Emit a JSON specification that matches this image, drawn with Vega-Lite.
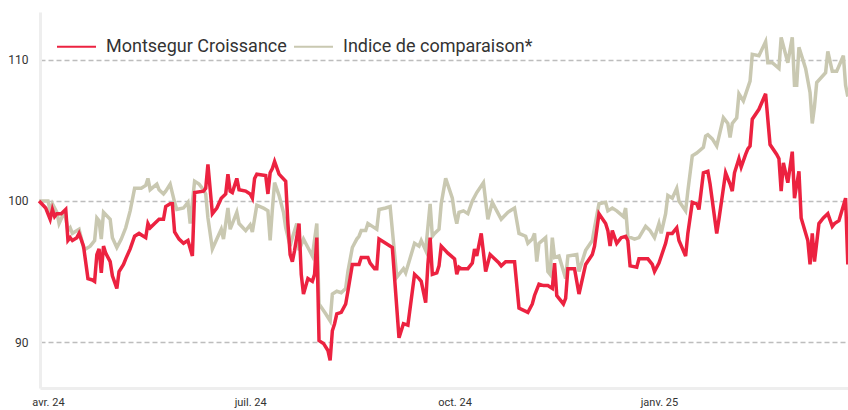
{
 "$schema": "https://vega.github.io/schema/vega-lite/v6.json",
 "width": 808,
 "height": 376,
 "autosize": {"type": "none"},
 "padding": {"left": 40, "top": 12, "right": 0, "bottom": 22},
 "background": "white",
 "config": {"view": {"stroke": null}, "font": "Roboto"},
 "datasets": {
  "m": [
{"d":"2024-03-28","v":100.0},{"d":"2024-03-31","v":99.5},{"d":"2024-04-02","v":98.7},{"d":"2024-04-03","v":99.4},{"d":"2024-04-04","v":98.9},{"d":"2024-04-05","v":99.1},{"d":"2024-04-07","v":99.1},{"d":"2024-04-09","v":99.4},{"d":"2024-04-10","v":97.2},{"d":"2024-04-11","v":97.4},{"d":"2024-04-12","v":97.2},{"d":"2024-04-14","v":97.4},{"d":"2024-04-15","v":97.7},{"d":"2024-04-17","v":96.8},{"d":"2024-04-19","v":94.5},{"d":"2024-04-21","v":94.4},{"d":"2024-04-22","v":94.3},{"d":"2024-04-23","v":96.2},{"d":"2024-04-24","v":96.6},{"d":"2024-04-25","v":94.9},{"d":"2024-04-26","v":96.8},{"d":"2024-04-27","v":96.3},{"d":"2024-04-29","v":95.7},{"d":"2024-04-30","v":94.7},{"d":"2024-05-02","v":93.8},{"d":"2024-05-03","v":95.0},{"d":"2024-05-05","v":95.5},{"d":"2024-05-06","v":95.9},{"d":"2024-05-08","v":96.6},{"d":"2024-05-10","v":97.5},{"d":"2024-05-12","v":97.7},{"d":"2024-05-15","v":97.4},{"d":"2024-05-16","v":98.4},{"d":"2024-05-17","v":98.1},{"d":"2024-05-19","v":98.4},{"d":"2024-05-21","v":98.7},{"d":"2024-05-23","v":98.7},{"d":"2024-05-24","v":99.6},{"d":"2024-05-26","v":99.8},{"d":"2024-05-27","v":99.8},{"d":"2024-05-28","v":97.8},{"d":"2024-05-30","v":97.3},{"d":"2024-06-01","v":97.0},{"d":"2024-06-03","v":97.2},{"d":"2024-06-05","v":96.1},{"d":"2024-06-06","v":100.6},{"d":"2024-06-10","v":100.7},{"d":"2024-06-11","v":100.9},{"d":"2024-06-12","v":102.6},{"d":"2024-06-14","v":99.1},{"d":"2024-06-16","v":99.5},{"d":"2024-06-18","v":100.2},{"d":"2024-06-20","v":100.5},{"d":"2024-06-21","v":101.9},{"d":"2024-06-22","v":100.7},{"d":"2024-06-23","v":100.6},{"d":"2024-06-25","v":101.6},{"d":"2024-06-26","v":100.8},{"d":"2024-06-29","v":100.7},{"d":"2024-07-01","v":100.5},{"d":"2024-07-02","v":100.2},{"d":"2024-07-03","v":101.6},{"d":"2024-07-04","v":101.9},{"d":"2024-07-08","v":101.8},{"d":"2024-07-09","v":100.5},{"d":"2024-07-10","v":102.0},{"d":"2024-07-11","v":102.3},{"d":"2024-07-12","v":102.8},{"d":"2024-07-14","v":101.9},{"d":"2024-07-17","v":101.4},{"d":"2024-07-18","v":98.4},{"d":"2024-07-19","v":96.2},{"d":"2024-07-20","v":95.7},{"d":"2024-07-21","v":96.5},{"d":"2024-07-23","v":98.4},{"d":"2024-07-24","v":94.8},{"d":"2024-07-25","v":93.4},{"d":"2024-07-27","v":94.5},{"d":"2024-07-29","v":94.3},{"d":"2024-07-30","v":94.8},{"d":"2024-07-31","v":97.4},{"d":"2024-08-01","v":90.1},{"d":"2024-08-03","v":89.9},{"d":"2024-08-05","v":89.4},{"d":"2024-08-06","v":88.7},{"d":"2024-08-07","v":90.8},{"d":"2024-08-08","v":91.3},{"d":"2024-08-09","v":92.0},{"d":"2024-08-11","v":92.1},{"d":"2024-08-13","v":92.7},{"d":"2024-08-14","v":93.6},{"d":"2024-08-16","v":95.5},{"d":"2024-08-19","v":95.5},{"d":"2024-08-20","v":96.0},{"d":"2024-08-23","v":96.0},{"d":"2024-08-24","v":95.6},{"d":"2024-08-26","v":95.2},{"d":"2024-08-27","v":95.2},{"d":"2024-08-28","v":97.3},{"d":"2024-08-31","v":97.0},{"d":"2024-09-03","v":96.7},{"d":"2024-09-06","v":90.3},{"d":"2024-09-08","v":91.3},{"d":"2024-09-10","v":91.2},{"d":"2024-09-13","v":94.8},{"d":"2024-09-15","v":94.5},{"d":"2024-09-16","v":94.3},{"d":"2024-09-18","v":92.8},{"d":"2024-09-19","v":95.5},{"d":"2024-09-20","v":97.4},{"d":"2024-09-21","v":94.8},{"d":"2024-09-23","v":94.9},{"d":"2024-09-24","v":95.4},{"d":"2024-09-25","v":96.8},{"d":"2024-09-28","v":96.3},{"d":"2024-10-01","v":95.9},{"d":"2024-10-02","v":94.8},{"d":"2024-10-03","v":95.3},{"d":"2024-10-04","v":95.2},{"d":"2024-10-07","v":95.2},{"d":"2024-10-09","v":95.6},{"d":"2024-10-10","v":96.6},{"d":"2024-10-11","v":96.1},{"d":"2024-10-13","v":97.7},{"d":"2024-10-15","v":95.0},{"d":"2024-10-17","v":96.2},{"d":"2024-10-19","v":95.9},{"d":"2024-10-21","v":95.6},{"d":"2024-10-22","v":95.4},{"d":"2024-10-24","v":95.7},{"d":"2024-10-28","v":95.7},{"d":"2024-10-30","v":92.4},{"d":"2024-11-03","v":92.1},{"d":"2024-11-05","v":92.7},{"d":"2024-11-06","v":93.3},{"d":"2024-11-08","v":94.1},{"d":"2024-11-10","v":94.0},{"d":"2024-11-12","v":94.0},{"d":"2024-11-14","v":93.8},{"d":"2024-11-15","v":95.6},{"d":"2024-11-16","v":93.3},{"d":"2024-11-17","v":93.1},{"d":"2024-11-19","v":92.7},{"d":"2024-11-20","v":93.1},{"d":"2024-11-21","v":95.2},{"d":"2024-11-24","v":95.2},{"d":"2024-11-26","v":93.4},{"d":"2024-11-29","v":95.5},{"d":"2024-12-02","v":96.2},{"d":"2024-12-03","v":96.8},{"d":"2024-12-05","v":99.1},{"d":"2024-12-08","v":98.4},{"d":"2024-12-09","v":97.9},{"d":"2024-12-10","v":96.8},{"d":"2024-12-11","v":97.9},{"d":"2024-12-13","v":97.0},{"d":"2024-12-15","v":97.4},{"d":"2024-12-17","v":97.5},{"d":"2024-12-18","v":97.2},{"d":"2024-12-19","v":95.4},{"d":"2024-12-22","v":95.3},{"d":"2024-12-23","v":95.9},{"d":"2024-12-27","v":95.9},{"d":"2024-12-29","v":95.5},{"d":"2024-12-30","v":95.0},{"d":"2025-01-01","v":95.6},{"d":"2025-01-04","v":97.0},{"d":"2025-01-05","v":97.7},{"d":"2025-01-07","v":97.7},{"d":"2025-01-09","v":98.1},{"d":"2025-01-10","v":97.2},{"d":"2025-01-13","v":96.1},{"d":"2025-01-14","v":97.7},{"d":"2025-01-16","v":99.9},{"d":"2025-01-18","v":99.8},{"d":"2025-01-19","v":99.4},{"d":"2025-01-21","v":102.0},{"d":"2025-01-23","v":102.1},{"d":"2025-01-24","v":101.2},{"d":"2025-01-27","v":97.7},{"d":"2025-01-28","v":98.7},{"d":"2025-01-31","v":102.0},{"d":"2025-02-02","v":101.2},{"d":"2025-02-03","v":100.7},{"d":"2025-02-04","v":102.0},{"d":"2025-02-05","v":102.5},{"d":"2025-02-06","v":103.0},{"d":"2025-02-07","v":102.4},{"d":"2025-02-09","v":103.3},{"d":"2025-02-10","v":103.7},{"d":"2025-02-11","v":103.9},{"d":"2025-02-12","v":105.8},{"d":"2025-02-15","v":106.5},{"d":"2025-02-18","v":107.6},{"d":"2025-02-20","v":104.0},{"d":"2025-02-23","v":103.3},{"d":"2025-02-24","v":103.0},{"d":"2025-02-25","v":100.7},{"d":"2025-02-26","v":102.7},{"d":"2025-02-28","v":101.3},{"d":"2025-03-02","v":103.5},{"d":"2025-03-03","v":100.2},{"d":"2025-03-05","v":102.1},{"d":"2025-03-06","v":98.8},{"d":"2025-03-09","v":97.2},{"d":"2025-03-10","v":95.5},{"d":"2025-03-11","v":97.7},{"d":"2025-03-12","v":95.7},{"d":"2025-03-14","v":98.4},{"d":"2025-03-16","v":98.8},{"d":"2025-03-18","v":99.1},{"d":"2025-03-20","v":98.2},{"d":"2025-03-21","v":98.4},{"d":"2025-03-23","v":98.6},{"d":"2025-03-26","v":100.2},{"d":"2025-03-27","v":95.5}
  ],
  "i": [
{"d":"2024-03-28","v":100.0},{"d":"2024-04-01","v":100.0},{"d":"2024-04-02","v":99.3},{"d":"2024-04-03","v":99.8},{"d":"2024-04-05","v":99.2},{"d":"2024-04-06","v":98.4},{"d":"2024-04-08","v":99.1},{"d":"2024-04-09","v":98.8},{"d":"2024-04-10","v":97.9},{"d":"2024-04-11","v":98.1},{"d":"2024-04-12","v":97.7},{"d":"2024-04-13","v":97.8},{"d":"2024-04-15","v":98.0},{"d":"2024-04-17","v":96.7},{"d":"2024-04-18","v":96.6},{"d":"2024-04-20","v":96.8},{"d":"2024-04-22","v":97.2},{"d":"2024-04-23","v":98.8},{"d":"2024-04-24","v":98.6},{"d":"2024-04-25","v":97.3},{"d":"2024-04-26","v":99.2},{"d":"2024-04-29","v":98.7},{"d":"2024-04-30","v":97.4},{"d":"2024-05-02","v":96.7},{"d":"2024-05-04","v":97.3},{"d":"2024-05-06","v":98.1},{"d":"2024-05-08","v":99.3},{"d":"2024-05-10","v":100.9},{"d":"2024-05-13","v":100.9},{"d":"2024-05-15","v":101.1},{"d":"2024-05-16","v":101.6},{"d":"2024-05-17","v":100.8},{"d":"2024-05-20","v":101.2},{"d":"2024-05-21","v":100.8},{"d":"2024-05-23","v":100.5},{"d":"2024-05-24","v":100.7},{"d":"2024-05-26","v":101.2},{"d":"2024-05-28","v":99.9},{"d":"2024-05-29","v":99.4},{"d":"2024-06-01","v":99.5},{"d":"2024-06-03","v":99.9},{"d":"2024-06-04","v":98.4},{"d":"2024-06-06","v":101.4},{"d":"2024-06-08","v":101.2},{"d":"2024-06-10","v":100.8},{"d":"2024-06-11","v":100.5},{"d":"2024-06-12","v":98.8},{"d":"2024-06-14","v":96.6},{"d":"2024-06-16","v":97.3},{"d":"2024-06-18","v":98.0},{"d":"2024-06-19","v":97.3},{"d":"2024-06-21","v":99.5},{"d":"2024-06-22","v":98.0},{"d":"2024-06-23","v":98.4},{"d":"2024-06-25","v":99.2},{"d":"2024-06-26","v":98.4},{"d":"2024-06-29","v":97.9},{"d":"2024-07-01","v":98.3},{"d":"2024-07-02","v":97.8},{"d":"2024-07-04","v":99.7},{"d":"2024-07-07","v":99.5},{"d":"2024-07-09","v":99.3},{"d":"2024-07-10","v":97.2},{"d":"2024-07-11","v":99.4},{"d":"2024-07-12","v":101.3},{"d":"2024-07-14","v":100.4},{"d":"2024-07-16","v":99.2},{"d":"2024-07-17","v":98.1},{"d":"2024-07-19","v":96.8},{"d":"2024-07-20","v":97.4},{"d":"2024-07-22","v":98.4},{"d":"2024-07-23","v":96.5},{"d":"2024-07-25","v":97.3},{"d":"2024-07-27","v":96.7},{"d":"2024-07-29","v":96.1},{"d":"2024-07-31","v":98.4},{"d":"2024-08-01","v":92.7},{"d":"2024-08-04","v":92.0},{"d":"2024-08-06","v":91.5},{"d":"2024-08-07","v":93.4},{"d":"2024-08-09","v":93.6},{"d":"2024-08-11","v":93.5},{"d":"2024-08-13","v":93.8},{"d":"2024-08-14","v":95.0},{"d":"2024-08-16","v":96.7},{"d":"2024-08-18","v":97.3},{"d":"2024-08-19","v":97.5},{"d":"2024-08-20","v":97.9},{"d":"2024-08-22","v":97.9},{"d":"2024-08-23","v":98.4},{"d":"2024-08-25","v":98.2},{"d":"2024-08-27","v":98.0},{"d":"2024-08-28","v":99.4},{"d":"2024-08-31","v":99.5},{"d":"2024-09-02","v":99.6},{"d":"2024-09-05","v":94.6},{"d":"2024-09-08","v":95.2},{"d":"2024-09-09","v":94.9},{"d":"2024-09-13","v":97.0},{"d":"2024-09-15","v":96.8},{"d":"2024-09-16","v":97.2},{"d":"2024-09-18","v":96.5},{"d":"2024-09-20","v":99.8},{"d":"2024-09-21","v":97.5},{"d":"2024-09-22","v":97.7},{"d":"2024-09-24","v":98.0},{"d":"2024-09-25","v":99.8},{"d":"2024-09-27","v":101.6},{"d":"2024-09-30","v":100.2},{"d":"2024-10-01","v":99.1},{"d":"2024-10-02","v":98.4},{"d":"2024-10-03","v":99.2},{"d":"2024-10-05","v":99.3},{"d":"2024-10-07","v":99.1},{"d":"2024-10-09","v":100.0},{"d":"2024-10-11","v":100.6},{"d":"2024-10-14","v":101.3},{"d":"2024-10-16","v":98.7},{"d":"2024-10-18","v":99.9},{"d":"2024-10-20","v":99.3},{"d":"2024-10-22","v":98.7},{"d":"2024-10-25","v":99.2},{"d":"2024-10-28","v":99.5},{"d":"2024-10-30","v":97.7},{"d":"2024-11-02","v":97.5},{"d":"2024-11-03","v":97.0},{"d":"2024-11-05","v":97.3},{"d":"2024-11-06","v":97.7},{"d":"2024-11-07","v":95.7},{"d":"2024-11-08","v":97.0},{"d":"2024-11-11","v":97.4},{"d":"2024-11-12","v":95.0},{"d":"2024-11-13","v":94.8},{"d":"2024-11-14","v":97.4},{"d":"2024-11-15","v":96.0},{"d":"2024-11-17","v":96.1},{"d":"2024-11-20","v":94.5},{"d":"2024-11-21","v":96.1},{"d":"2024-11-25","v":96.2},{"d":"2024-11-26","v":95.0},{"d":"2024-11-29","v":96.5},{"d":"2024-12-02","v":97.2},{"d":"2024-12-03","v":98.1},{"d":"2024-12-05","v":99.8},{"d":"2024-12-08","v":99.9},{"d":"2024-12-09","v":99.3},{"d":"2024-12-11","v":99.5},{"d":"2024-12-13","v":99.3},{"d":"2024-12-16","v":98.9},{"d":"2024-12-17","v":99.5},{"d":"2024-12-18","v":97.5},{"d":"2024-12-21","v":97.3},{"d":"2024-12-23","v":97.4},{"d":"2024-12-26","v":98.2},{"d":"2024-12-28","v":97.9},{"d":"2024-12-30","v":97.4},{"d":"2025-01-01","v":98.4},{"d":"2025-01-02","v":97.7},{"d":"2025-01-04","v":99.1},{"d":"2025-01-05","v":100.4},{"d":"2025-01-07","v":100.2},{"d":"2025-01-09","v":100.9},{"d":"2025-01-10","v":100.0},{"d":"2025-01-13","v":99.3},{"d":"2025-01-14","v":100.7},{"d":"2025-01-16","v":103.2},{"d":"2025-01-18","v":103.4},{"d":"2025-01-21","v":103.8},{"d":"2025-01-22","v":104.6},{"d":"2025-01-23","v":104.7},{"d":"2025-01-25","v":104.4},{"d":"2025-01-27","v":103.9},{"d":"2025-01-30","v":105.9},{"d":"2025-02-01","v":105.5},{"d":"2025-02-02","v":104.5},{"d":"2025-02-03","v":105.5},{"d":"2025-02-05","v":105.9},{"d":"2025-02-06","v":107.6},{"d":"2025-02-08","v":107.1},{"d":"2025-02-11","v":108.5},{"d":"2025-02-12","v":110.4},{"d":"2025-02-15","v":110.3},{"d":"2025-02-18","v":111.3},{"d":"2025-02-19","v":109.8},{"d":"2025-02-21","v":109.8},{"d":"2025-02-24","v":109.4},{"d":"2025-02-25","v":111.6},{"d":"2025-02-28","v":109.8},{"d":"2025-03-02","v":111.6},{"d":"2025-03-03","v":108.2},{"d":"2025-03-04","v":108.2},{"d":"2025-03-05","v":110.9},{"d":"2025-03-08","v":109.4},{"d":"2025-03-10","v":107.7},{"d":"2025-03-11","v":105.5},{"d":"2025-03-12","v":106.7},{"d":"2025-03-13","v":108.4},{"d":"2025-03-17","v":109.1},{"d":"2025-03-18","v":110.6},{"d":"2025-03-20","v":109.2},{"d":"2025-03-22","v":109.2},{"d":"2025-03-25","v":110.3},{"d":"2025-03-26","v":108.2},{"d":"2025-03-27","v":107.4}
  ]
 },
 "encoding": {
  "x": {
   "field": "d", "type": "temporal",
   "scale": {"type": "utc", "domain": [{"year": 2024, "month": 3, "date": 28, "hours": 10, "utc": true}, {"year": 2025, "month": 3, "date": 27, "hours": 2, "utc": true}]},
   "axis": {
    "title": null,
    "values": [{"year": 2024, "month": 4, "date": 1, "utc": true}, {"year": 2024, "month": 7, "date": 1, "utc": true}, {"year": 2024, "month": 10, "date": 1, "utc": true}, {"year": 2025, "month": 1, "date": 1, "utc": true}],
    "labelExpr": "['janv.','févr.','mars','avr.','mai','juin','juil.','août','sept.','oct.','nov.','déc.'][utcmonth(datum.value)] + ' ' + utcFormat(datum.value, '%y')",
    "labelFlush": false,
    "labelFont": "Roboto",
    "labelFontSize": 11,
    "labelColor": "#333333",
    "labelPadding": 8,
    "ticks": false,
    "grid": false,
    "domainColor": "#eeeeee",
    "domainWidth": 3
   }
  },
  "y": {
   "field": "v", "type": "quantitative",
   "scale": {"domain": [86.74, 113.4], "nice": false, "zero": false},
   "axis": {
    "title": null,
    "values": [90, 100, 110],
    "labelFont": "Roboto",
    "labelFontSize": 12,
    "labelColor": "#333333",
    "labelPadding": 12,
    "ticks": false,
    "grid": true,
    "gridDash": [5, 3],
    "gridColor": "#bdbdbd",
    "gridWidth": 1.5,
    "domainColor": "#eeeeee",
    "domainWidth": 3
   }
  }
 },
 "layer": [
  {
   "data": {"name": "i"},
   "mark": {"type": "line", "strokeWidth": 3.5},
   "encoding": {
    "color": {
     "datum": "Indice de comparaison*",
     "type": "nominal",
     "scale": {"domain": ["Montsegur Croissance", "Indice de comparaison*"], "range": ["#ec2240", "#c9c8b1"]},
     "legend": {
      "title": null,
      "orient": "none",
      "legendX": 16,
      "legendY": 14,
      "direction": "horizontal",
      "symbolType": "stroke",
      "symbolSize": 1521,
      "symbolStrokeWidth": 2,
      "labelFont": "Roboto",
      "labelFontSize": 18,
      "labelColor": "#333333",
      "labelOffset": 9,
      "columnPadding": 3,
      "padding": 0,
      "labelLimit": 400
     }
    }
   }
  },
  {
   "data": {"name": "m"},
   "mark": {"type": "line", "strokeWidth": 3.5},
   "encoding": {"color": {"datum": "Montsegur Croissance", "type": "nominal"}}
  }
 ]
}
